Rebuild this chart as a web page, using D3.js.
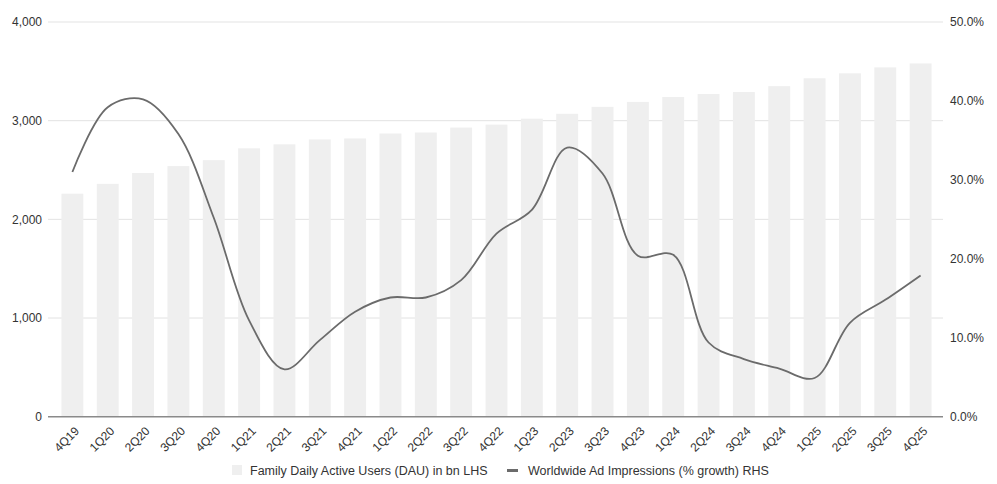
<!DOCTYPE html>
<html>
<head>
<meta charset="utf-8">
<script src="https://cdn.jsdelivr.net/npm/d3@7"></script>
<style>
  body { margin: 0; background: #fff; }
  svg { font-family: "Liberation Sans", Arial, sans-serif; }
</style>
</head>
<body>
<svg id="chart" width="997" height="484"></svg>
<script>
// quarters on the x axis
const quarters = ["4Q19", "1Q20", "2Q20", "3Q20", "4Q20", "1Q21", "2Q21", "3Q21", "4Q21",
  "1Q22", "2Q22", "3Q22", "4Q22", "1Q23", "2Q23", "3Q23", "4Q23",
  "1Q24", "2Q24", "3Q24", "4Q24", "1Q25", "2Q25", "3Q25", "4Q25"];

// Family DAU (LHS)
const dau = [2260, 2360, 2470, 2540, 2600, 2720, 2760, 2810, 2820,
  2870, 2880, 2930, 2960, 3020, 3070, 3140, 3190,
  3240, 3270, 3290, 3350, 3430, 3480, 3540, 3580];

// ad impressions growth in % (RHS)
const adGrowth = [31.0, 39.2, 40.2, 35.8, 25.2, 12.2, 6.0, 9.7, 13.3,
  15.1, 15.1, 17.3, 23.2, 26.2, 34.1, 30.8, 20.4,
  20.5, 9.4, 7.3, 6.1, 4.9, 11.9, 14.8, 17.9];

const leftTicks = [0, 1000, 2000, 3000, 4000];
const rightTicks = [0, 10, 20, 30, 40, 50];

const legendLabels = ["Family Daily Active Users (DAU) in bn LHS",
  "Worldwide Ad Impressions (% growth) RHS"];

const svg = d3.select("#chart");
const plotLeft = 48, plotRight = 943;
const plotTop = 22, plotBottom = 416.7;

const barColor = "#efefef";
const lineColor = "#6b6b6b";
const textColor = "#333";

let x = d3.scaleBand()
  .domain(quarters)
  .range([48, 945])
  .paddingInner(0.38)
  .paddingOuter(0.38);

let yLeft = d3.scaleLinear().domain([0, 4000]).range([plotBottom, plotTop]);
let yRight = d3.scaleLinear().domain([0, 50]).range([plotBottom, plotTop]);

// gridlines follow the left axis
svg.append("g")
  .selectAll("line")
  .data(leftTicks.filter(d => d > 0))
  .join("line")
  .attr("x1", plotLeft)
  .attr("x2", plotRight)
  .attr("y1", d => yLeft(d))
  .attr("y2", d => yLeft(d))
  .attr("stroke", "#e3e3e3")
  .attr("stroke-width", 1);

svg.append("g")
  .selectAll("rect")
  .data(dau)
  .join("rect")
  .attr("x", (d, i) => x(quarters[i]))
  .attr("y", d => yLeft(d))
  .attr("width", x.bandwidth())
  .attr("height", d => plotBottom - yLeft(d))
  .attr("fill", barColor);

// baseline
svg.append("line")
  .attr("x1", plotLeft)
  .attr("x2", plotRight)
  .attr("y1", plotBottom)
  .attr("y2", plotBottom)
  .attr("stroke", "#8a8a8a")
  .attr("stroke-width", 1.5);

let line = d3.line()
  .x((d, i) => x(quarters[i]) + x.bandwidth() / 2)
  .y(d => yRight(d))
  .curve(d3.curveCatmullRom.alpha(0.5));

svg.append("path")
  .datum(adGrowth)
  .attr("d", line)
  .attr("fill", "none")
  .attr("stroke", lineColor)
  .attr("stroke-width", 1.8);

// left axis labels
let axisL = svg.append("g")
  .attr("transform", `translate(${plotLeft - 6},0)`)
  .call(d3.axisLeft(yLeft).tickValues(leftTicks).tickFormat(d3.format(",")).tickSize(0).tickPadding(0));
axisL.select(".domain").remove();

let axisR = svg.append("g")
  .attr("transform", `translate(${plotRight + 7},0)`)
  .call(d3.axisRight(yRight).tickValues(rightTicks).tickFormat(d => d.toFixed(1) + "%").tickSize(0).tickPadding(0));
axisR.select(".domain").remove();

// x axis, rotated labels
let axisX = svg.append("g")
  .attr("transform", `translate(0,${plotBottom})`)
  .call(d3.axisBottom(x).tickSize(0).tickPadding(0));
axisX.select(".domain").remove();
axisX.selectAll("text")
  .attr("text-anchor", "end")
  .attr("dy", null)
  .attr("y", 0)
  .attr("transform", "translate(7.5,15) rotate(-45)");

svg.selectAll(".tick text")
  .attr("fill", textColor)
  .style("font-size", "12px")
  .style("font-family", "'Liberation Sans', Arial, sans-serif");

// legend
let legend = svg.append("g");
legend.append("rect")
  .attr("x", 232).attr("y", 465)
  .attr("width", 10).attr("height", 10)
  .attr("fill", barColor);
legend.append("text")
  .attr("x", 250).attr("y", 475)
  .attr("fill", textColor)
  .style("font-size", "12.5px")
  .text(legendLabels[0]);
legend.append("rect")
  .attr("x", 507).attr("y", 469)
  .attr("width", 11).attr("height", 3)
  .attr("fill", lineColor);
legend.append("text")
  .attr("x", 528).attr("y", 475)
  .attr("fill", textColor)
  .style("font-size", "12.5px")
  .text(legendLabels[1]);
</script>
</body>
</html>
